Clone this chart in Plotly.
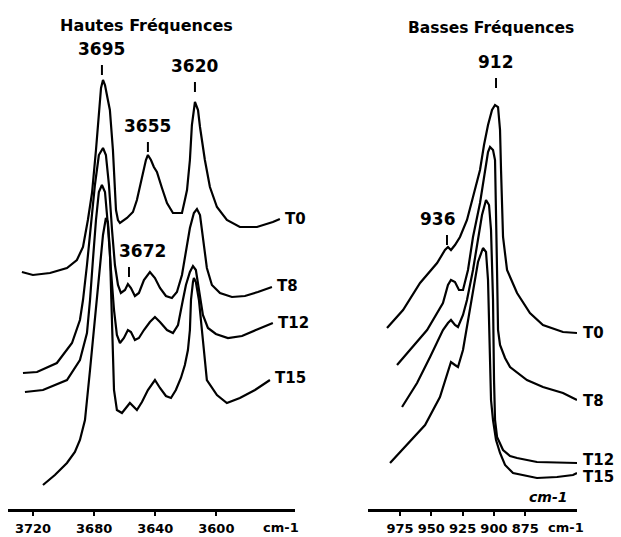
# Spectres IR de la kaolinite : hautes et basses fréquences (T0 -> T15)
import plotly.graph_objects as go

# === 1. Données (nombre d'onde en cm-1, absorbance décalée, u.a.) ===

# Hautes fréquences (zone des OH)
hf_t0_x = [3727.3, 3720.1, 3708.9, 3697.8, 3691.3, 3687.3, 3684.1, 3681.4, 3678.8, 3676.9,
           3675.5, 3674.2, 3672.9, 3671.0, 3669.7, 3667.7, 3666.4, 3665.7, 3664.4, 3663.1,
           3658.5, 3654.6, 3652.0, 3650.0, 3648.1, 3646.1, 3644.8, 3642.8, 3640.9, 3638.9,
           3635.6, 3632.3, 3628.4, 3622.5, 3620.6, 3619.2, 3617.3, 3616.0, 3614.0, 3612.0,
           3610.7, 3607.5, 3604.2, 3599.6, 3593.1, 3584.6, 3573.4, 3563.0, 3558.4]
hf_t0_y = [2.37, 2.34, 2.36, 2.41, 2.49, 2.62, 2.89, 3.16, 3.59, 3.99,
           4.21, 4.29, 4.24, 4.09, 3.99, 3.59, 3.22, 2.99, 2.89, 2.86,
           2.91, 2.97, 3.09, 3.22, 3.37, 3.49, 3.54, 3.49, 3.42, 3.37,
           3.21, 3.06, 2.96, 2.96, 3.09, 3.19, 3.49, 3.84, 4.07, 3.99,
           3.82, 3.49, 3.22, 3.02, 2.89, 2.82, 2.82, 2.87, 2.90]

hf_t8_x = [3726.6, 3717.4, 3704.4, 3694.5, 3689.3, 3687.3, 3684.7, 3682.1, 3679.5, 3676.9,
           3674.2, 3672.3, 3670.3, 3668.3, 3666.4, 3664.4, 3662.5, 3659.8, 3657.9, 3655.9,
           3653.3, 3650.7, 3647.4, 3643.5, 3640.2, 3636.9, 3633.0, 3629.1, 3625.8, 3622.5,
           3619.9, 3617.3, 3614.7, 3612.7, 3610.7, 3608.8, 3606.2, 3602.9, 3597.6, 3589.8,
           3581.3, 3572.8, 3563.6]
hf_t8_y = [1.36, 1.37, 1.46, 1.66, 1.89, 2.09, 2.44, 2.84, 3.24, 3.54,
           3.61, 3.54, 3.24, 2.79, 2.44, 2.24, 2.16, 2.19, 2.25, 2.21,
           2.13, 2.16, 2.29, 2.37, 2.31, 2.21, 2.13, 2.11, 2.17, 2.34,
           2.59, 2.81, 2.96, 3.00, 2.94, 2.69, 2.41, 2.24, 2.16, 2.12,
           2.13, 2.17, 2.22]

hf_t12_x = [3725.3, 3713.5, 3697.8, 3689.3, 3684.7, 3682.7, 3680.8, 3678.8, 3676.9, 3674.9,
            3672.9, 3671.0, 3669.0, 3667.0, 3665.1, 3663.1, 3660.5, 3657.9, 3655.9, 3653.3,
            3650.7, 3647.4, 3643.5, 3640.2, 3636.9, 3632.3, 3628.4, 3625.1, 3621.9, 3619.9,
            3617.3, 3615.3, 3613.4, 3611.4, 3608.8, 3605.5, 3600.3, 3592.4, 3583.2, 3574.1,
            3563.0]
hf_t12_y = [1.17, 1.19, 1.29, 1.49, 1.76, 2.09, 2.49, 2.89, 3.17, 3.24,
            3.17, 2.84, 2.39, 1.99, 1.74, 1.66, 1.71, 1.79, 1.77, 1.69,
            1.71, 1.79, 1.87, 1.92, 1.87, 1.79, 1.76, 1.84, 2.09, 2.24,
            2.37, 2.43, 2.39, 2.19, 1.94, 1.81, 1.75, 1.71, 1.73, 1.79,
            1.86]

hf_t15_x = [3713.5, 3705.7, 3697.8, 3692.6, 3689.3, 3686.0, 3682.7, 3680.1, 3678.2, 3676.2,
            3674.2, 3672.3, 3671.0, 3669.7, 3669.0, 3668.3, 3667.7, 3667.0, 3665.1, 3661.8,
            3656.6, 3652.0, 3648.7, 3644.8, 3640.2, 3636.9, 3633.0, 3629.7, 3626.5, 3623.2,
            3620.6, 3618.6, 3617.3, 3616.6, 3615.3, 3614.7, 3613.4, 3611.4, 3608.8, 3606.2,
            3599.6, 3593.1, 3584.6, 3574.7, 3564.9]
hf_t15_y = [0.24, 0.34, 0.46, 0.57, 0.69, 0.89, 1.39, 1.79, 2.09, 2.44,
            2.74, 2.91, 2.87, 2.59, 2.19, 1.79, 1.39, 1.19, 0.99, 0.96,
            1.06, 0.99, 1.07, 1.19, 1.29, 1.21, 1.13, 1.11, 1.19, 1.31,
            1.44, 1.59, 1.79, 2.09, 2.27, 2.31, 2.27, 2.09, 1.69, 1.29,
            1.14, 1.06, 1.11, 1.19, 1.29]

# Basses fréquences
bf_t0_x = [985.4, 972.6, 959.0, 945.4, 939.1, 936.7, 934.3, 931.1, 927.1, 921.5,
           916.7, 913.5, 911.1, 907.9, 904.7, 901.5, 899.1, 896.7, 895.1, 894.3,
           892.7, 889.5, 881.5, 871.2, 860.8, 844.8, 833.6]
bf_t0_y = [1.81, 1.99, 2.26, 2.46, 2.59, 2.62, 2.59, 2.64, 2.72, 2.89,
           3.12, 3.29, 3.39, 3.64, 3.84, 3.99, 4.04, 4.02, 3.79, 3.39,
           2.72, 2.39, 2.16, 1.96, 1.84, 1.77, 1.76]

bf_t8_x = [977.4, 967.0, 953.4, 940.7, 936.7, 934.3, 931.1, 927.9, 924.7, 920.7,
           916.7, 911.1, 907.1, 904.7, 903.1, 900.7, 899.1, 898.3, 897.5, 896.7,
           895.1, 891.1, 887.1, 873.6, 860.8, 844.8, 833.6]
bf_t8_y = [1.44, 1.59, 1.79, 2.06, 2.24, 2.29, 2.27, 2.19, 2.19, 2.39,
           2.72, 3.06, 3.39, 3.57, 3.62, 3.59, 3.49, 3.09, 2.39, 1.79,
           1.64, 1.51, 1.42, 1.29, 1.22, 1.16, 1.09]

bf_t12_x = [973.4, 961.4, 951.0, 940.7, 936.7, 934.3, 931.1, 928.7, 924.7, 921.5,
            916.7, 912.7, 909.5, 906.3, 903.9, 902.3, 900.7, 899.9, 899.1, 897.5,
            892.7, 887.1, 881.5, 865.6, 833.6]
bf_t12_y = [1.02, 1.26, 1.52, 1.79, 1.86, 1.89, 1.84, 1.82, 1.94, 2.09,
            2.39, 2.69, 2.94, 3.09, 3.04, 2.79, 2.09, 1.29, 0.89, 0.72,
            0.59, 0.53, 0.51, 0.47, 0.46]

bf_t15_x = [983.0, 971.0, 959.0, 955.0, 943.1, 937.5, 934.3, 931.1, 928.7, 924.7,
            920.7, 916.7, 912.7, 908.7, 906.3, 904.7, 903.9, 903.1, 902.3, 900.7,
            898.3, 895.1, 891.1, 884.7, 865.6, 849.6, 836.8, 833.6]
bf_t15_y = [0.46, 0.62, 0.79, 0.84, 1.12, 1.34, 1.47, 1.44, 1.42, 1.59,
            1.89, 2.19, 2.47, 2.61, 2.57, 2.29, 1.79, 1.39, 1.09, 0.89,
            0.69, 0.56, 0.44, 0.36, 0.31, 0.32, 0.34, 0.36]

echantillons = ["T0", "T8", "T12", "T15"]
hautes = [(hf_t0_x, hf_t0_y), (hf_t8_x, hf_t8_y), (hf_t12_x, hf_t12_y), (hf_t15_x, hf_t15_y)]
basses = [(bf_t0_x, bf_t0_y), (bf_t8_x, bf_t8_y), (bf_t12_x, bf_t12_y), (bf_t15_x, bf_t15_y)]

ticks_hf = [3720, 3680, 3640, 3600]
ticks_bf = [975, 950, 925, 900, 875]

# bandes repérées : texte, axe, x du trait, x du texte, haut du trait (u.a.)
bandes = [
    ("3695", "x", 3674.9, 3674.9, 4.44),
    ("3620", "x", 3614.0, 3614.0, 4.27),
    ("3655", "x", 3644.8, 3644.8, 3.67),
    ("3672", "x", 3657.2, 3648.1, 2.42),
    ("912", "x2", 898.3, 898.3, 4.31),
    ("936", "x2", 937.5, 944.6, 2.74),
]

for x, y in hautes + basses:
    assert len(x) == len(y)

# === 2. Figure ===
POLICE = "DejaVu Sans"
fig = go.Figure()

for (x, y) in hautes:
    fig.add_trace(go.Scatter(x=x, y=y, mode="lines", xaxis="x", yaxis="y",
                             line=dict(color="black", width=2.2)))
for (x, y) in basses:
    fig.add_trace(go.Scatter(x=x, y=y, mode="lines", xaxis="x2", yaxis="y2",
                             line=dict(color="black", width=2.2)))

annotations = []
shapes = []

# étiquettes des échantillons au bout de chaque courbe
decalage_y = {"T0": 0, "T8": 1, "T12": 0, "T15": 2}
for nom, (x, y) in zip(echantillons, hautes):
    annotations.append(dict(x=x[-1], y=y[-1], xref="x", yref="y", text=nom, showarrow=False,
                            xanchor="left", yanchor="middle", xshift=3, yshift=decalage_y[nom],
                            font=dict(family=POLICE, size=15, color="black", weight="bold")))
decalage_y2 = {"T0": 0, "T8": -1, "T12": 3, "T15": -4}
for nom, (x, y) in zip(echantillons, basses):
    annotations.append(dict(x=x[-1], y=y[-1], xref="x2", yref="y2", text=nom, showarrow=False,
                            xanchor="left", yanchor="middle", xshift=4, yshift=decalage_y2[nom],
                            font=dict(family=POLICE, size=15, color="black", weight="bold")))

# repères des bandes : petit trait + valeur au-dessus
for texte, ax, x_trait, x_texte, haut in bandes:
    ay = "y" if ax == "x" else "y2"
    shapes.append(dict(type="line", xref=ax, yref=ay, x0=x_trait, x1=x_trait,
                       y0=haut - 0.1, y1=haut, line=dict(color="black", width=2)))
    annotations.append(dict(x=x_texte, y=haut + 0.04, xref=ax, yref=ay, text=texte,
                            showarrow=False, yanchor="bottom",
                            font=dict(family=POLICE, size=17, color="black", weight="bold")))

# titres des deux panneaux
annotations.append(dict(x=0.484, y=4.84, xref="x domain", yref="y", text="Hautes Fréquences",
                        showarrow=False, font=dict(family=POLICE, size=16, color="black", weight="bold")))
annotations.append(dict(x=0.589, y=4.81, xref="x2 domain", yref="y2", text="Basses Fréquences",
                        showarrow=False, font=dict(family=POLICE, size=15.5, color="black", weight="bold")))

# unités (sous l'axe : repère "domain" pour ne pas être masquées hors plage)
annotations.append(dict(x=0.952, y=-18 / 509, xref="x domain", yref="y domain", text="cm-1",
                        showarrow=False, xanchor="center", yanchor="middle",
                        font=dict(family=POLICE, size=13, color="black", weight="bold")))
annotations.append(dict(x=0.947, y=-18 / 509, xref="x2 domain", yref="y2 domain", text="cm-1",
                        showarrow=False, xanchor="center", yanchor="middle",
                        font=dict(family=POLICE, size=13, color="black", weight="bold")))
annotations.append(dict(x=856.8, y=0.12, xref="x2", yref="y2", text="<i>cm-1</i>", showarrow=False,
                        font=dict(family=POLICE, size=14, color="black", weight="bold")))

axe_x = dict(showline=True, linecolor="black", linewidth=3, ticks="outside", ticklen=4,
             tickwidth=2, tickcolor="black", showgrid=False, zeroline=False,
             ticklabelstandoff=1, tickangle=0, automargin=False,
             tickfont=dict(family=POLICE, size=13, color="black", weight="bold"))

fig.update_layout(
    width=621, height=537,
    margin=dict(l=0, r=0, t=0, b=28),
    paper_bgcolor="white", plot_bgcolor="white",
    showlegend=False,
    xaxis=dict(axe_x, domain=[8 / 621, 295 / 621], range=[3736.4, 3548.5],
               tickvals=ticks_hf, anchor="y"),
    yaxis=dict(range=[0, 5.09], visible=False, anchor="x"),
    xaxis2=dict(axe_x, domain=[368 / 621, 577 / 621], range=[1000.6, 833.6],
                tickvals=ticks_bf, anchor="y2"),
    yaxis2=dict(range=[0, 5.09], visible=False, anchor="x2"),
    annotations=annotations,
    shapes=shapes,
)

# marge du <body> à zéro pour que la figure occupe toute la fenêtre
fig.write_html("out.html", config={"displayModeBar": False},
               post_script="document.body.style.margin='0';")
